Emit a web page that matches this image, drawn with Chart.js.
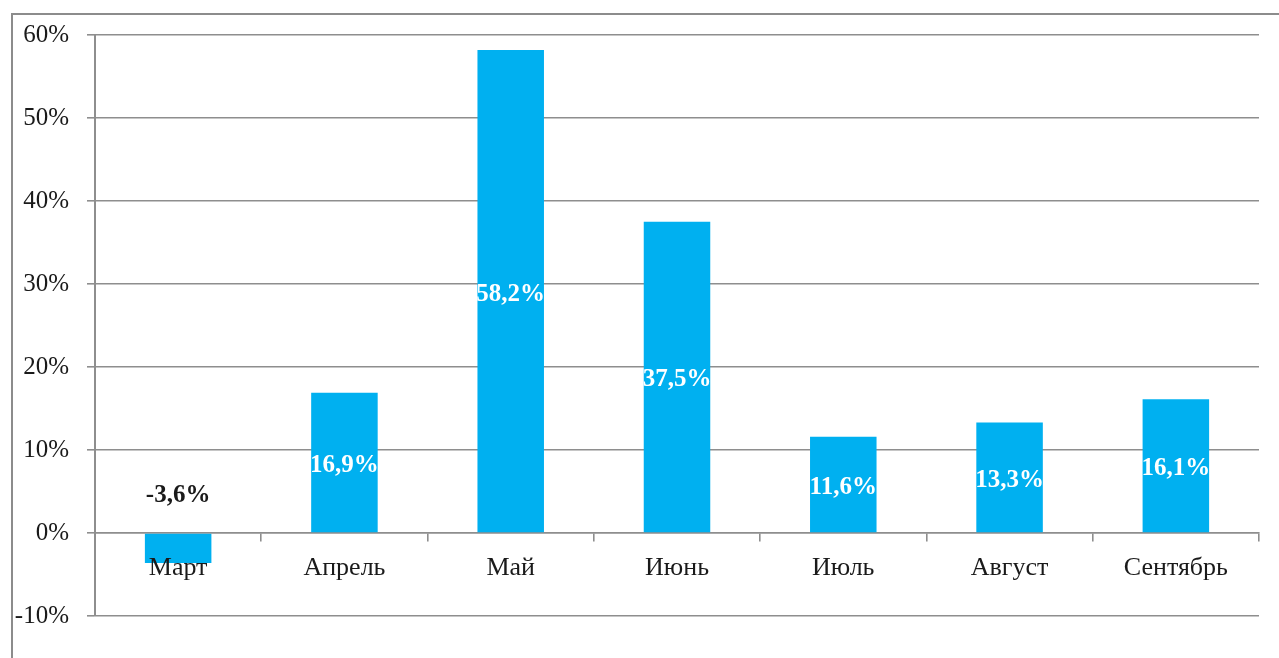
<!DOCTYPE html>
<html lang="ru">
<head>
<meta charset="utf-8">
<title>Прирост по месяцам</title>
<script src="https://cdn.jsdelivr.net/npm/chart.js@4/dist/chart.umd.min.js"></script>
<style>
  html, body { margin: 0; padding: 0; background: #fff; overflow: hidden; }
  #wrap { position: relative; width: 1279px; height: 658px; }
  #frame {
    position: absolute; left: 11px; top: 13px; width: 1300px; height: 700px;
    border: 2px solid #8c8c8c; box-sizing: border-box; pointer-events: none;
  }
  #chart { position: absolute; left: 0; top: 0; }
</style>
</head>
<body>
<div id="wrap">
  <div id="frame"></div>
  <canvas id="chart" width="1279" height="658"></canvas>
</div>
<script>
const months = ['Март', 'Апрель', 'Май', 'Июнь', 'Июль', 'Август', 'Сентябрь'];
const growth = [-3.6, 16.9, 58.2, 37.5, 11.6, 13.3, 16.1];
const yTicks = [-10, 0, 10, 20, 30, 40, 50, 60];

const SERIF = "'Liberation Serif', 'Times New Roman', serif";
const GRID = '#8e8e8e';

const fmt = v => v.toFixed(1).replace('.', ',') + '%';

// value labels: white in the middle of positive bars, black above zero for negative
const barLabels = {
  id: 'barLabels',
  afterDatasetsDraw(chart) {
    const { ctx } = chart;
    const meta = chart.getDatasetMeta(0);
    ctx.save();
    ctx.font = 'bold 25px ' + SERIF;
    ctx.textAlign = 'center';
    ctx.textBaseline = 'middle';
    meta.data.forEach((bar, i) => {
      const v = growth[i];
      if (v >= 0) {
        ctx.fillStyle = '#ffffff';
        ctx.fillText(fmt(v), bar.x, (bar.y + bar.base) / 2 + 3);
      } else {
        ctx.fillStyle = '#1a1a1a';
        ctx.fillText(fmt(v), bar.x, bar.base - 38);
      }
    });
    ctx.restore();
  }
};

new Chart(document.getElementById('chart'), {
  type: 'bar',
  data: {
    labels: months,
    datasets: [{
      data: growth,
      backgroundColor: '#00b0f0',
      borderWidth: 0,
      categoryPercentage: 1,
      barPercentage: 0.4
    }]
  },
  options: {
    responsive: false,
    animation: false,
    events: [],
    layout: { padding: { left: 0, top: 35, right: 20, bottom: 42 } },
    plugins: {
      legend: { display: false },
      tooltip: { enabled: false }
    },
    scales: {
      y: {
        min: -10,
        max: 60,
        afterBuildTicks: scale => { scale.ticks = yTicks.map(v => ({ value: v })); },
        afterFit: scale => { scale.width = 95; },
        grid: { color: GRID, lineWidth: 1.6, tickLength: 8, drawTicks: true },
        border: { display: true, color: GRID, width: 2 },
        ticks: {
          padding: 18,
          color: '#1a1a1a',
          font: { family: SERIF, size: 25 },
          callback: v => v + '%'
        }
      },
      x: {
        position: { y: 0 },
        offset: true,
        grid: {
          offset: true,
          drawOnChartArea: false,
          drawTicks: true,
          tickLength: 8,
          color: GRID,
          lineWidth: 1.6
        },
        border: { display: true, color: GRID, width: 1.6 },
        ticks: {
          z: 1,
          padding: 12,
          color: '#1a1a1a',
          maxRotation: 0,
          font: { family: SERIF, size: 26 }
        }
      }
    }
  },
  plugins: [barLabels]
});
</script>
</body>
</html>
